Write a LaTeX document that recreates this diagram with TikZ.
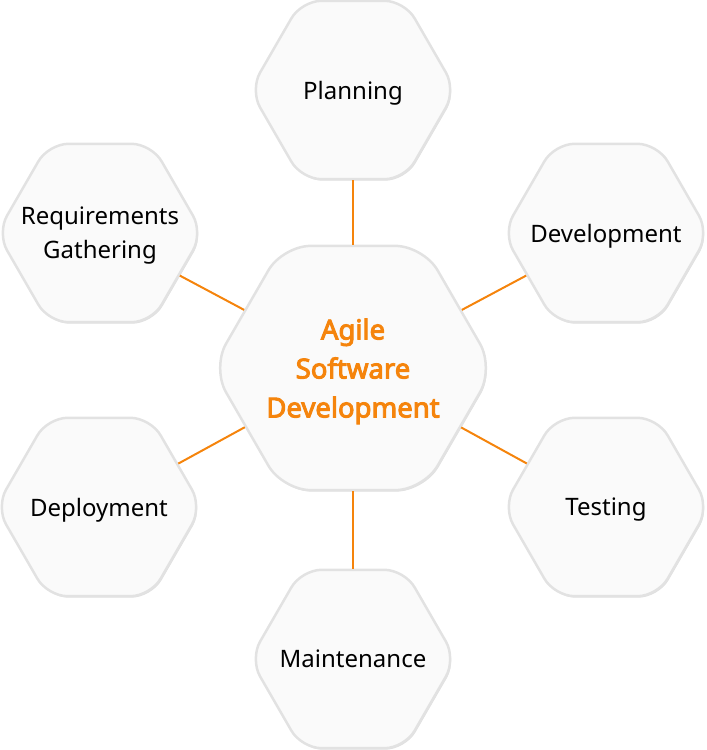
\documentclass[tikz,border=0pt]{standalone}
\usepackage{fontspec}
\setmainfont{Noto Sans}[AutoFakeBold=3.5]
\usepackage{xcolor}
\usetikzlibrary{shapes.geometric,shadows}
\definecolor{agileorange}{RGB}{245,132,12}
\definecolor{hexfill}{RGB}{250,250,250}
\definecolor{hexline}{RGB}{226,226,226}
% zero-width line, so the text does not widen the hexagon
\newcommand{\hexrow}[1]{\makebox[0pt]{#1}}

\begin{document}
\begin{tikzpicture}[x=1pt,y=-1pt,
		hexbox/.style={shape=regular polygon,regular polygon sides=6,inner sep=0pt,
			minimum size=206pt,rounded corners=20pt,fill=hexfill,draw=hexline,line width=2.5pt,
			drop shadow={shadow xshift=1pt,shadow yshift=-1.5pt,opacity=0.12,fill=black},
			font=\fontsize{24}{34}\selectfont,align=center,text depth=-4pt},
		hubbox/.style={hexbox,minimum size=282pt,rounded corners=28pt,text=agileorange,
			font=\fontsize{27.5}{39}\selectfont\bfseries,text depth=0pt},
		spoke/.style={draw=agileorange,line width=2pt}]
		\useasboundingbox (0,0) rectangle (707,750);
		\node[hubbox] (hub) at (353,368) {\hexrow{Agile}\\\hexrow{Software}\\\hexrow{Development}};
		\node[hexbox] (plan) at (353,90) {\hexrow{Planning}};
		\node[hexbox] (req) at (100,233) {\hexrow{Requirements}\\\hexrow{Gathering}};
		\node[hexbox] (dev) at (606,233) {\hexrow{Development}};
		\node[hexbox] (depl) at (99,507) {\hexrow{Deployment}};
		\node[hexbox] (test) at (606,507) {\hexrow{Testing}};
		\node[hexbox] (maint) at (353,659) {\hexrow{Maintenance}};
		\foreach \n in {plan,req,dev,depl,test,maint}
			\draw[spoke] (hub) -- (\n);
		\end{tikzpicture}
\end{document}
